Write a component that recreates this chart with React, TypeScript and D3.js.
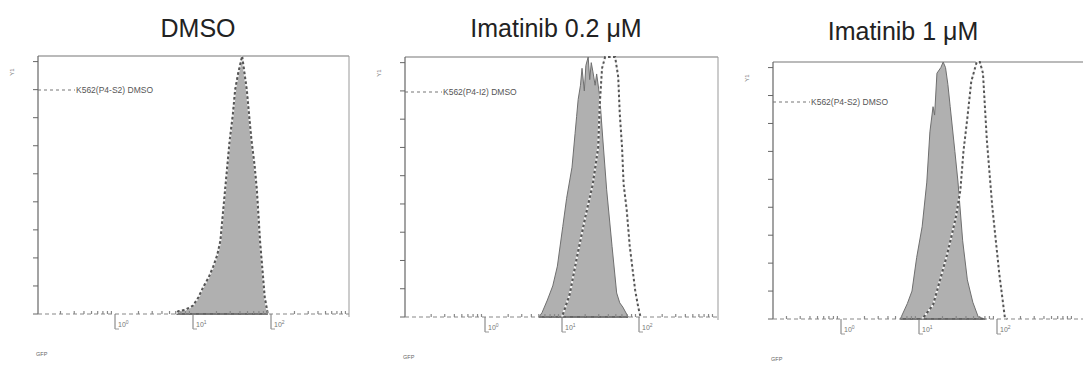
import * as d3 from 'd3';

// histogram outlines: [log10 GFP, count]
const p1Dmso: [number, number][] = [
  [0.78, 0], [0.81, 1], [0.9, 1.5], [1.0, 3], [1.07, 6], [1.13, 9.6], [1.2, 13], [1.26, 17],
  [1.31, 21], [1.35, 26], [1.38, 35], [1.41, 44], [1.44, 53], [1.47, 62], [1.51, 71], [1.54, 80],
  [1.58, 86], [1.63, 92], [1.66, 86], [1.69, 80], [1.72, 71], [1.75, 62], [1.79, 53], [1.82, 44],
  [1.84, 35], [1.86, 26], [1.89, 16], [1.92, 6], [1.94, 3], [1.96, 0],
];

const p2Sample: [number, number][] = [
  [0.7, 0], [0.74, 1.5], [0.81, 6], [0.88, 11], [0.94, 18], [1.01, 32], [1.06, 42], [1.13, 53],
  [1.17, 65], [1.19, 71], [1.21, 77], [1.24, 82], [1.26, 88], [1.29, 80], [1.31, 89], [1.34, 92],
  [1.36, 84], [1.38, 90], [1.4, 87], [1.43, 82], [1.45, 86], [1.49, 78], [1.53, 63], [1.58, 45],
  [1.65, 25], [1.71, 8.5], [1.75, 5], [1.79, 3.5], [1.86, 0],
];

const p2Dmso: [number, number][] = [
  [1.0, 0], [1.1, 8], [1.2, 22], [1.3, 35], [1.4, 47], [1.47, 60], [1.49, 75], [1.52, 88],
  [1.56, 92], [1.69, 92], [1.73, 85], [1.75, 72], [1.78, 60], [1.8, 47], [1.84, 38], [1.88, 25],
  [1.95, 9.5], [1.99, 3.5], [2.02, 0],
];

const p3Sample: [number, number][] = [
  [0.76, 0], [0.85, 5.5], [0.91, 10], [0.97, 22], [1.04, 33], [1.1, 49], [1.14, 67], [1.18, 76],
  [1.2, 73], [1.23, 88], [1.28, 90], [1.31, 92], [1.34, 90], [1.37, 84], [1.4, 76], [1.46, 60],
  [1.5, 49], [1.56, 28], [1.62, 14], [1.69, 6], [1.76, 0.7], [1.85, 0],
];

const p3Dmso: [number, number][] = [
  [1.04, 0], [1.18, 5], [1.36, 23], [1.47, 36], [1.53, 46], [1.57, 60], [1.62, 72], [1.67, 85],
  [1.74, 92], [1.78, 92], [1.82, 88], [1.87, 64], [1.94, 40], [2.03, 16], [2.1, 0.7], [2.13, 0],
];

const titles = ['DMSO', 'Imatinib 0.2 \u03bcM', 'Imatinib 1 \u03bcM'];
const legends = ['K562(P4-S2) DMSO', 'K562(P4-I2) DMSO', 'K562(P4-S2) DMSO'];
const yTicks = [0, 10, 20, 30, 40, 50, 60, 70, 80, 90];
const decades = [0, 1, 2];

interface Frame {
  left: number; right: number; top: number; bottom: number;
  x0: number; dec: number; titleX: number; titleY: number; legendY: number;
}

const frames: Frame[] = [
  { left: 38, right: 349, top: 56, bottom: 314, x0: 115, dec: 78, titleX: 198, titleY: 37, legendY: 90 },
  { left: 405, right: 718, top: 57, bottom: 317, x0: 485, dec: 77, titleX: 556, titleY: 37, legendY: 92 },
  { left: 773, right: 1092, top: 62, bottom: 319, x0: 841, dec: 78, titleX: 903, titleY: 40, legendY: 102 },
];

const FONT = "'Liberation Sans', Arial, sans-serif";

function Panel({ f, title, legend, sample, dmso }: {
  f: Frame; title: string; legend: string; sample: [number, number][]; dmso: [number, number][];
}) {
  const lo = (f.left - f.x0) / f.dec;
  const hi = (f.right - f.x0) / f.dec;
  const x = d3.scaleLog().domain([10 ** lo, 10 ** hi]).range([f.left, f.right]);
  const y = d3.scaleLinear().domain([0, 92]).range([f.bottom, f.top]);

  const area = d3.area<[number, number]>()
    .x(d => x(10 ** d[0]))
    .y0(f.bottom)
    .y1(d => y(d[1]));
  const line = d3.line<[number, number]>()
    .x(d => x(10 ** d[0]))
    .y(d => y(d[1]));

  const minor = x.ticks().filter(t => {
    const e = Math.log10(t);
    return Math.abs(e - Math.round(e)) > 1e-6;
  });

  return (
    <g>
      <text x={f.titleX} y={f.titleY} textAnchor="middle" fontSize={25} fill="#222" fontFamily={FONT}>
        {title}
      </text>

      {/* frame */}
      <line x1={f.left} x2={f.right} y1={f.top} y2={f.top} stroke="#777" strokeWidth={1.2} />
      <line x1={f.right} x2={f.right} y1={f.top} y2={f.bottom + 3} stroke="#999" strokeWidth={1} />
      <line x1={f.left} x2={f.left} y1={f.top} y2={f.bottom} stroke="#666" strokeWidth={1.2} />

      {yTicks.map(t => (
        <line key={t} x1={f.left - 5} x2={f.left} y1={y(t)} y2={y(t)} stroke="#666" strokeWidth={1} />
      ))}
      <text transform={`translate(${f.left - 24},${f.top + 16}) rotate(-90)`} fontSize={6} fill="#777"
        textAnchor="middle" fontFamily={FONT}>Y1</text>

      {/* histograms */}
      <path d={area(sample) ?? ''} fill="#b0b0b0" stroke="#6f6f6f" strokeWidth={1} />
      <line x1={x(10 ** sample[0][0])} x2={x(10 ** sample[sample.length - 1][0])} y1={f.bottom} y2={f.bottom}
        stroke="#555" strokeWidth={1.5} />
      <path d={line(dmso) ?? ''} fill="none" stroke="#f4f4f4" strokeWidth={2} strokeDasharray="2.5 2.5" />
      <path d={line(dmso) ?? ''} fill="none" stroke="#555" strokeWidth={2} strokeDasharray="2.5 2.5"
        strokeDashoffset={2.5} />

      {/* x axis */}
      <line x1={f.left} x2={f.right} y1={f.bottom} y2={f.bottom} stroke="#888" strokeWidth={1.2}
        strokeDasharray="4 3" />
      {minor.map((t, i) => (
        <line key={i} x1={x(t)} x2={x(t)} y1={f.bottom} y2={f.bottom - 3} stroke="#888" strokeWidth={1.2} />
      ))}
      {decades.map(k => {
        const px = x(10 ** k);
        return (
          <g key={k}>
            <line x1={px} x2={px} y1={f.bottom} y2={f.bottom + 15} stroke="#777" strokeWidth={1} />
            <line x1={px} x2={px + 4} y1={f.bottom + 15} y2={f.bottom + 15} stroke="#999" strokeWidth={1} />
            <text x={px + 3} y={f.bottom + 13} fontSize={7} fill="#777" fontFamily={FONT}>
              10<tspan dy={-3} fontSize={5}>{k}</tspan>
            </text>
          </g>
        );
      })}
      <text x={f.left - 2} y={f.bottom + 42} fontSize={5.5} fill="#666" fontFamily={FONT}>GFP</text>

      {/* legend */}
      <line x1={f.left} x2={f.left + 37} y1={f.legendY} y2={f.legendY} stroke="#777" strokeWidth={1.2}
        strokeDasharray="3 3" />
      <text x={f.left + 38} y={f.legendY + 3} fontSize={8.5} fill="#555" fontFamily={FONT}>{legend}</text>
    </g>
  );
}

export default function App() {
  return (
    <svg width={1083} height={365} style={{ position: 'absolute', left: 0, top: 0, background: '#fff' }}>
      <rect width={1083} height={365} fill="#fff" />
      <Panel f={frames[0]} title={titles[0]} legend={legends[0]} sample={p1Dmso} dmso={p1Dmso} />
      <Panel f={frames[1]} title={titles[1]} legend={legends[1]} sample={p2Sample} dmso={p2Dmso} />
      <Panel f={frames[2]} title={titles[2]} legend={legends[2]} sample={p3Sample} dmso={p3Dmso} />
    </svg>
  );
}
